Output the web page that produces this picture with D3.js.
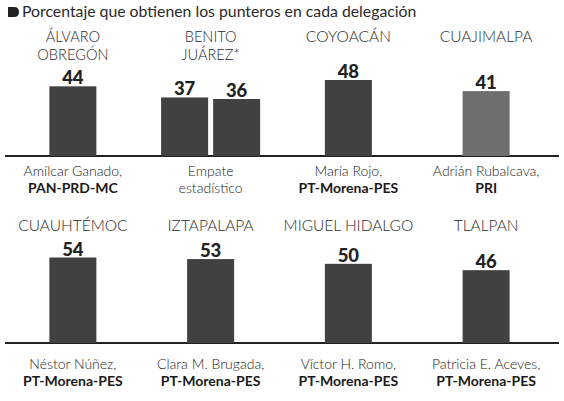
<!DOCTYPE html>
<html>
<head>
<meta charset="utf-8">
<script src="https://cdn.jsdelivr.net/npm/d3@7"></script>
<style>
  body { margin: 0; background: #fff; }
  svg { display: block; }
  .titulo { font-family: Lato, "Open Sans", sans-serif; font-weight: 300; fill: #2a2a2a; }
  .valor { font-family: Lato, sans-serif; font-weight: 900; fill: #222; }
  .nombre { font-family: Lato, sans-serif; font-weight: 300; fill: #222; }
  .partido { font-family: Lato, sans-serif; font-weight: 700; fill: #1a1a1a; }
</style>
</head>
<body>
<svg id="chart" width="564" height="401"></svg>
<script>
// datos
var subtitulo = "Porcentaje que obtienen los punteros en cada delegación";
var delegaciones = [["ÁLVARO", "OBREGÓN"], ["BENITO", "JUÁREZ*"], ["COYOACÁN"], ["CUAJIMALPA"],
                    ["CUAUHTÉMOC"], ["IZTAPALAPA"], ["MIGUEL HIDALGO"], ["TLALPAN"]];
var valores = [[44], [37, 36], [48], [41], [54], [53], [50], [46]];
var candidatos = ["Amílcar Ganado,", "Empate", "María Rojo,", "Adrián Rubalcava,",
                  "Néstor Núñez,", "Clara M. Brugada,", "Víctor H. Romo,", "Patricia E. Aceves,"];
var partidos = ["PAN-PRD-MC", "estadístico", "PT-Morena-PES", "PRI",
                "PT-Morena-PES", "PT-Morena-PES", "PT-Morena-PES", "PT-Morena-PES"];

var W = 564, H = 401;
var svg = d3.select("#chart");

var rows = [
  { base: 156, title: 42, name1: 176, name2: 193 },
  { base: 343, title: 231, name1: 369, name2: 386 }
];

var xScale = d3.scaleBand()
  .domain(d3.range(4))
  .range([4, 555]);

var yScale = d3.scaleLinear()
  .domain([0, 60])
  .range([0, 95]);

var barW = 47, barGap = 5;

// subtitulo con la vineta
svg.append("path")
  .attr("d", "M8,7 L14,7 Q19,7 19,12 Q19,17 14,17 L8,17 Z")
  .attr("fill", "#222");
svg.append("text")
  .attr("class", "titulo")
  .attr("x", 22).attr("y", 17)
  .attr("font-size", 15.8)
  .style("font-weight", 400)
  .text(subtitulo);

// lineas base
rows.forEach(function(r) {
  svg.append("line")
    .attr("x1", 5).attr("x2", 559)
    .attr("y1", r.base).attr("y2", r.base)
    .attr("stroke", "#222")
    .attr("stroke-width", 2);
});

var cells = svg.selectAll("g.cell")
  .data(delegaciones.map(function(d, i) { return i; }))
  .enter()
  .append("g")
  .attr("class", "cell")
  .attr("transform", function(i) {
    var cx = xScale(i % 4) + xScale.bandwidth() / 2;
    return "translate(" + cx + ",0)";
  });

cells.each(function(i) {
  var g = d3.select(this);
  var r = rows[Math.floor(i / 4)];
  var vals = valores[i];
  var total = vals.length * barW + (vals.length - 1) * barGap;

  // titulo de la delegacion
  g.selectAll("text.tit")
    .data(delegaciones[i])
    .enter()
    .append("text")
    .attr("class", "titulo tit")
    .attr("text-anchor", "middle")
    .attr("x", 0)
    .attr("y", function(d, j) { return r.title + j * 17.5; })
    .attr("font-size", delegaciones[i].length > 1 ? 14.6 : 15.5)
    .text(function(d) { return d; });

  g.selectAll("rect")
    .data(vals)
    .enter()
    .append("rect")
    .attr("x", function(d, j) { return -total / 2 + j * (barW + barGap); })
    .attr("y", function(d) { return r.base - yScale(d); })
    .attr("width", barW)
    .attr("height", function(d) { return yScale(d); })
    .attr("fill", i == 3 ? "#6e6e6e" : "#414141");

  g.selectAll("text.val")
    .data(vals)
    .enter()
    .append("text")
    .attr("class", "valor val")
    .attr("text-anchor", "middle")
    .attr("x", function(d, j) { return -total / 2 + j * (barW + barGap) + barW / 2; })
    .attr("y", function(d) { return r.base - yScale(d) - 2; })
    .attr("font-size", 18.5)
    .text(function(d) { return d; });

  g.append("text")
    .attr("class", "nombre")
    .attr("text-anchor", "middle")
    .attr("y", r.name1)
    .attr("font-size", 14)
    .text(candidatos[i]);

  g.append("text")
    .attr("class", i == 1 ? "nombre" : "partido")
    .attr("text-anchor", "middle")
    .attr("y", r.name2)
    .attr("font-size", 14)
    .text(partidos[i]);
});
</script>
</body>
</html>
